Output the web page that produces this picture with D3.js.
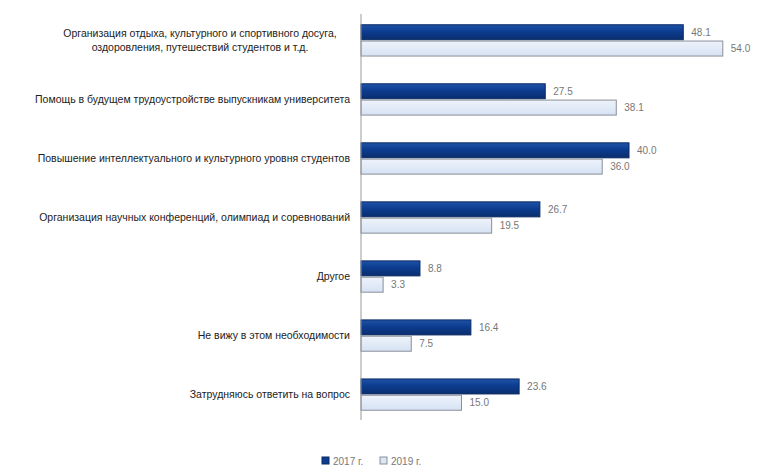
<!DOCTYPE html>
<meta charset="utf-8">
<style>
body { margin: 0; background: #fff; }
text { font-family: "Liberation Sans", Arial, sans-serif; }
.cat { font-size: 10.5px; fill: #222; }
.val { font-size: 10px; fill: #777; }
.legend text { font-size: 10px; fill: #777; }
</style>
<svg width="759" height="468"></svg>
<script src="https://cdn.jsdelivr.net/npm/d3@7/dist/d3.min.js"></script>
<script>

// categories (top to bottom)
var categories = [
  "Организация отдыха, культурного и спортивного досуга,\nоздоровления, путешествий студентов и т.д.",
  "Помощь в будущем трудоустройстве выпускникам университета",
  "Повышение интеллектуального и культурного уровня студентов",
  "Организация научных конференций, олимпиад и соревнований",
  "Другое",
  "Не вижу в этом необходимости",
  "Затрудняюсь ответить на вопрос"
];

var seriesNames = ["2017 г.", "2019 г."];
var darkValues  = [48.1, 27.5, 40.0, 26.7, 8.8, 16.4, 23.6];
var lightValues = [54.0, 38.1, 36.0, 19.5, 3.3, 7.5, 15.0];

var svg = d3.select("svg"),
    width = +svg.attr("width"),
    height = +svg.attr("height");

var x0 = 361;

var x = d3.scaleLinear()
    .domain([0, 100])
    .range([x0, x0 + 670]);

var y = d3.scaleBand()
    .domain(d3.range(categories.length))
    .range([10, 425])
    .paddingInner(0.47)
    .paddingOuter(0.25);

var sub = d3.scaleBand()
    .domain([0, 1])
    .range([0, y.bandwidth()])
    .paddingInner(0.08);

var defs = svg.append("defs");
var gDark = defs.append("linearGradient").attr("id", "gdark")
    .attr("x1", 0).attr("y1", 0).attr("x2", 0).attr("y2", 1);
gDark.append("stop").attr("offset", "0%").attr("stop-color", "#1f53a8");
gDark.append("stop").attr("offset", "45%").attr("stop-color", "#0c3c8f");
gDark.append("stop").attr("offset", "100%").attr("stop-color", "#0a2e6e");

var gLight = defs.append("linearGradient").attr("id", "glight")
    .attr("x1", 0).attr("y1", 0).attr("x2", 0).attr("y2", 1);
gLight.append("stop").attr("offset", "0%").attr("stop-color", "#eef3fb");
gLight.append("stop").attr("offset", "100%").attr("stop-color", "#d6e2f3");

var rows = categories.map(function(c, i) {
  return {i: i, name: c, vals: [darkValues[i], lightValues[i]]};
});

var g = svg.append("g");

var grp = g.selectAll(".row")
    .data(rows)
  .enter().append("g")
    .attr("class", "row")
    .attr("transform", function(d) { return "translate(0," + y(d.i) + ")"; });

grp.selectAll("rect.bar")
    .data(function(d) { return d.vals.map(function(v, k) { return {v: v, k: k}; }); })
  .enter().append("rect")
    .attr("class", "bar")
    .attr("x", x0)
    .attr("y", function(d) { return sub(d.k); })
    .attr("width", function(d) { return x(d.v) - x0; })
    .attr("height", sub.bandwidth())
    .attr("fill", function(d) { return d.k === 0 ? "url(#gdark)" : "url(#glight)"; })
    .attr("stroke", function(d) { return d.k === 0 ? "#0a2a63" : "#8a8f99"; })
    .attr("stroke-width", 1);

grp.selectAll("text.val")
    .data(function(d) { return d.vals.map(function(v, k) { return {v: v, k: k}; }); })
  .enter().append("text")
    .attr("class", "val")
    .attr("x", function(d) { return x(d.v) + 8; })
    .attr("y", function(d) { return sub(d.k) + sub.bandwidth() / 2; })
    .attr("dy", "0.35em")
    .text(function(d) { return d3.format(".1f")(d.v); });

// category labels
grp.append("text")
    .attr("class", "cat")
    .attr("text-anchor", "end")
    .attr("x", 350)
    .attr("y", y.bandwidth() / 2)
    .each(function(d) {
      var lines = d.name.split("\n");
      var t = d3.select(this);
      lines.forEach(function(l, j) {
        t.append("tspan")
          .attr("x", lines.length > 1 ? 200 : 350)
          .attr("text-anchor", lines.length > 1 ? "middle" : "end")
          .attr("dy", j === 0 ? (0.35 - (lines.length - 1) * 0.65) + "em" : "1.3em")
          .text(l);
      });
    });

// axis line
svg.append("line")
    .attr("x1", x0).attr("x2", x0)
    .attr("y1", 14).attr("y2", 420)
    .attr("stroke", "#9a9a9a");

// legend
var legend = svg.append("g").attr("class", "legend")
    .attr("transform", "translate(322,461)");
var lx = [0, 58];
seriesNames.forEach(function(n, k) {
  legend.append("rect")
      .attr("x", lx[k]).attr("y", -4)
      .attr("width", 7).attr("height", 7)
      .attr("fill", k === 0 ? "#0c3c8f" : "#dce7f5")
      .attr("stroke", k === 0 ? "#0a2a63" : "#8a8f99");
  legend.append("text")
      .attr("x", lx[k] + 11).attr("y", 0)
      .attr("dy", "0.35em")
      .text(n);
});

</script>
